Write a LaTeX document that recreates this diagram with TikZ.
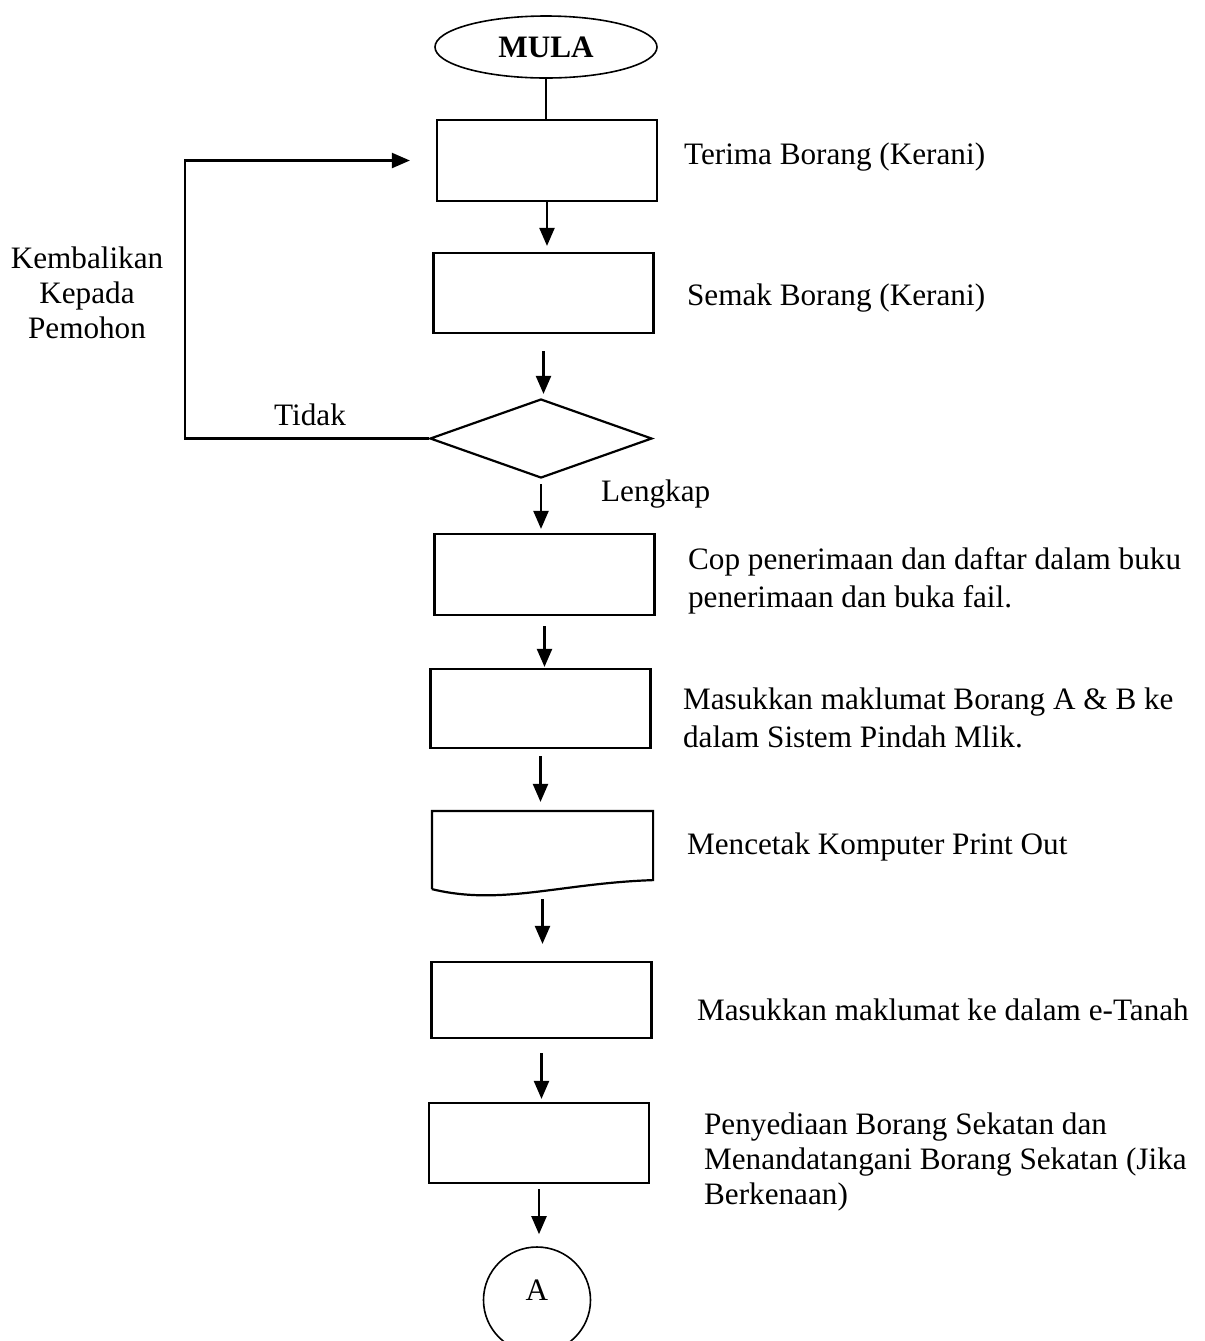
\documentclass[tikz,border=0pt]{standalone}
\usepackage{fontspec}
\setmainfont{Liberation Serif}
\usepackage{tikz}
\usetikzlibrary{calc, positioning, shapes.geometric}
\usetikzlibrary{arrows.meta}

\begin{document}
\begin{tikzpicture}[x=0.5pt,y=-0.5pt,
        font=\fontsize{15.6}{19}\selectfont,
        line width=1.1pt,
        kotak/.style={draw, rectangle, minimum width=110pt, minimum height=40pt, inner sep=0pt},
        teks/.style={anchor=west, align=left, inner sep=0pt},
        anak/.style={-{Triangle[length=9pt,width=7.5pt]}}]
        \useasboundingbox (0,0) rectangle (1205,1341);
        %\draw[very thin,color=gray] (0,0) grid[step=50] (1205,1341);
        \node[draw, ellipse, line width=0.8pt, minimum width=111pt, minimum height=31pt, inner sep=0pt, font=\fontsize{15.6}{19}\selectfont\bfseries] (mula) at (546,47) {MULA};
        \node[kotak, minimum height=40.5pt] (terima) at (547,160.5) {};
        \node[kotak] (semak) at (543.5,293) {};
        \node[draw, diamond, minimum width=111pt, minimum height=39.5pt, inner sep=0pt] (cek) at (541,438.5) {};
        \node[kotak, minimum height=40.5pt] (cop) at (544.5,574.5) {};
        \node[kotak, minimum height=39.5pt] (masuk) at (540.5,708.5) {};
        \node[minimum width=109.5pt, minimum height=38pt, inner sep=0pt] (cetak) at (542.5,850) {};
        \draw (cetak.south west) -- (cetak.north west) -- (cetak.north east) -- ($(cetak.south east)+(0,-9)$)
              .. controls ($(cetak.south east)+(-92,-6)$) and ($(cetak.south east)+(-152,17)$) .. (cetak.south west);
        \node[kotak, minimum height=38pt] (etanah) at (541.5,1000) {};
        \node[kotak] (sekatan) at (539,1143) {};
        \node[draw, ellipse, line width=0.8pt, minimum width=53.5pt, minimum height=53pt, inner sep=0pt] (A) at (537,1300) {};
        \node (hurufA) at (537,1290) {A};

        % anak panah
        \draw (mula.south) -- (mula.south |- terima.north);
        \draw[anak, shorten >=3pt] (terima.south) -- (terima.south |- semak.north);
        \draw[anak, shorten <=8.5pt, shorten >=2pt] (semak.south) -- (semak.south |- cek.north);
        \draw[anak, shorten <=2.5pt, shorten >=2pt] (cek.south) -- (cek.south |- cop.north);
        \draw[anak, shorten <=5pt, shorten >=0.5pt] (cop.south) -- (cop.south |- masuk.north);
        \draw[anak, shorten <=3.5pt, shorten >=4.5pt] (masuk.south) -- (masuk.south |- cetak.north);
        \draw[anak, shorten <=5pt, shorten >=8.5pt] (cetak.south) -- (cetak.south |- etanah.north);
        \draw[anak, shorten <=7pt, shorten >=1.5pt] (etanah.south) -- (etanah.south |- sekatan.north);
        \draw[anak, shorten <=2.5pt, shorten >=6pt] (sekatan.south) -- (sekatan.south |- A.north);
        \coordinate (balik) at (185,0);
        \draw[anak, shorten >=13pt] (cek.west) -| (balik |- terima.west) -- (terima.west);

        % label
        \node[teks] (lterima) at (683,157) {Terima Borang (Kerani)};
        \node[teks] (lsemak) at (686,298) {Semak Borang (Kerani)};
        \node[teks] (lcop) at (687,581) {Cop penerimaan dan daftar dalam buku\\penerimaan dan buka fail.};
        \node[teks] (lmasuk) at (682,718) {Masukkan maklumat Borang A \& B ke\\dalam Sistem Pindah Mlik.};
        \node[teks] (lcetak) at (686,847) {Mencetak Komputer Print Out};
        \node[teks] (letanah) at (696,1010) {Masukkan maklumat ke dalam e-Tanah};
        \node[teks, font=\fontsize{15.6}{17.5}\selectfont] (lsekatan) at (703,1162) {Penyediaan Borang Sekatan dan\\Menandatangani Borang Sekatan (Jika\\Berkenaan)};
        \node[align=center, inner sep=0pt, font=\fontsize{15.6}{17.5}\selectfont] (lbalik) at (87,293) {Kembalikan\\Kepada\\Pemohon};
        \node (ltidak) at (310,415) {Tidak};
        \node[teks] (llengkap) at (600,494) {Lengkap};
\end{tikzpicture}
\end{document}
